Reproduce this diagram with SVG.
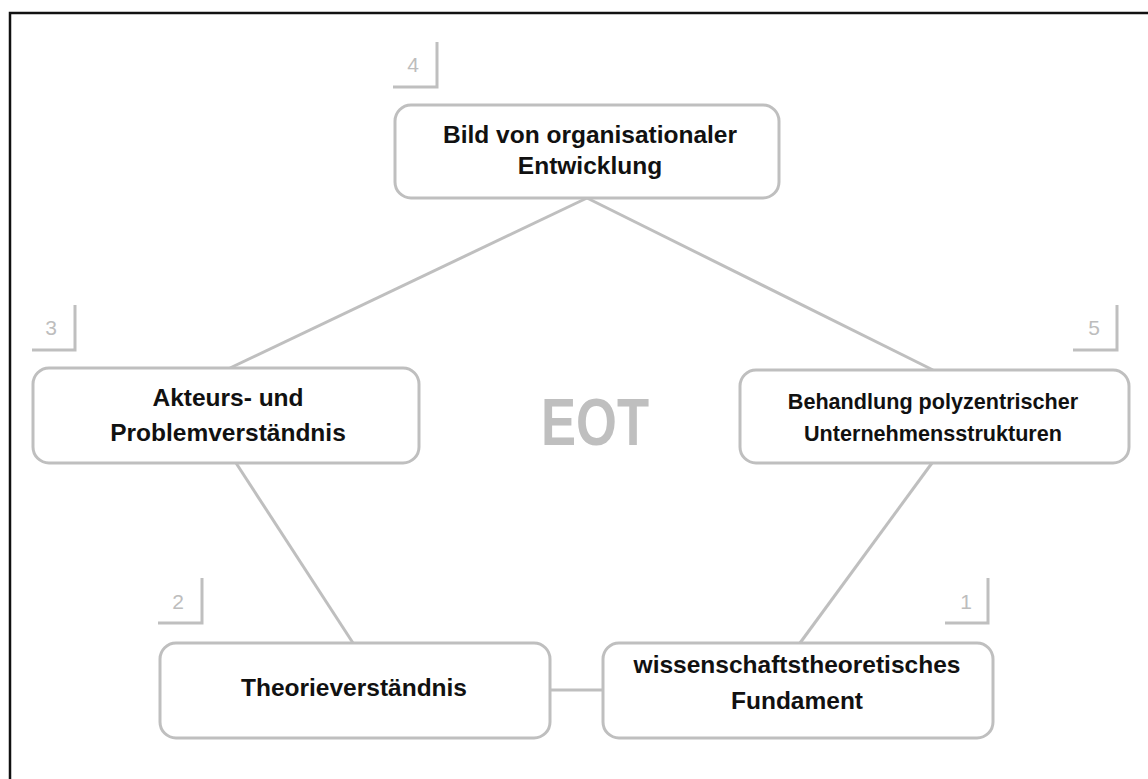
<svg xmlns="http://www.w3.org/2000/svg" width="1148" height="779" viewBox="0 0 1148 779">
<style>
.box{fill:#fff;stroke:#bfbfbf;stroke-width:3}
.lbl{font-family:"Liberation Sans",Arial,sans-serif;font-weight:bold;font-size:24.5px;fill:#111;text-anchor:middle}
.sm{font-size:21.6px}
.num{font-family:"Liberation Sans",Arial,sans-serif;font-size:21px;fill:#bdbdbd;text-anchor:middle}
.brk{fill:none;stroke:#bfbfbf;stroke-width:3}
.con{stroke:#bfbfbf;stroke-width:3;fill:none}
</style>
<rect x="0" y="0" width="1148" height="779" fill="#fff"/>
<path d="M10 790 V13 H1160" fill="none" stroke="#111" stroke-width="2.5"/>
<g id="connectors">
<line class="con" x1="587" y1="198" x2="230" y2="368"/>
<line class="con" x1="587" y1="198" x2="933" y2="370"/>
<line class="con" x1="236" y1="463" x2="353" y2="643"/>
<line class="con" x1="932" y1="463" x2="800" y2="643"/>
<line class="con" x1="550" y1="690" x2="603" y2="690"/>
</g>
<text x="595" y="445" font-family="Liberation Sans,Arial,sans-serif" font-weight="bold" font-size="67" fill="#bfbfbf" text-anchor="middle" textLength="108" lengthAdjust="spacingAndGlyphs">EOT</text>
<g id="n4">
<path class="brk" d="M393 87 H437 V42"/>
<text class="num" x="413" y="72">4</text>
<rect class="box" x="395" y="105" width="384" height="93" rx="16"/>
<text class="lbl" x="590" y="143">Bild von organisationaler</text>
<text class="lbl" x="590" y="174">Entwicklung</text>
</g>
<g id="n3">
<path class="brk" d="M32 350 H75 V305"/>
<text class="num" x="51" y="335">3</text>
<rect class="box" x="33" y="368" width="386" height="95" rx="16"/>
<text class="lbl" x="228" y="406">Akteurs- und</text>
<text class="lbl" x="228" y="441">Problemverständnis</text>
</g>
<g id="n5">
<path class="brk" d="M1073 350 H1117 V305"/>
<text class="num" x="1094" y="335">5</text>
<rect class="box" x="740" y="370" width="389" height="93" rx="16"/>
<text class="lbl sm" x="933" y="409">Behandlung polyzentrischer</text>
<text class="lbl sm" x="933" y="441">Unternehmensstrukturen</text>
</g>
<g id="n2">
<path class="brk" d="M158 623 H202 V578"/>
<text class="num" x="178" y="609">2</text>
<rect class="box" x="160" y="643" width="390" height="95" rx="16"/>
<text class="lbl" x="354" y="696">Theorieverständnis</text>
</g>
<g id="n1">
<path class="brk" d="M945 623 H988 V578"/>
<text class="num" x="966" y="609">1</text>
<rect class="box" x="603" y="643" width="390" height="95" rx="16"/>
<text class="lbl" x="797" y="673">wissenschaftstheoretisches</text>
<text class="lbl" x="797" y="709">Fundament</text>
</g>
</svg>
